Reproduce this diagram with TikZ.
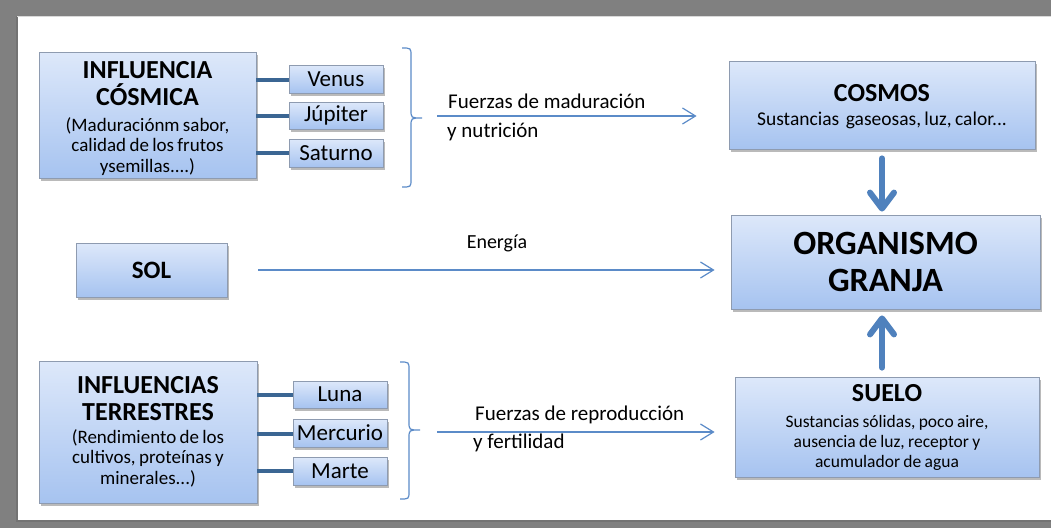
\documentclass[tikz,border=0pt]{standalone}
\usepackage{fontspec}
\setmainfont{Carlito}
\usetikzlibrary{arrows.meta,shadows}
\definecolor{bgray}{HTML}{808080}
\definecolor{boxtop}{HTML}{DDE8FA}
\definecolor{boxbot}{HTML}{A6C3F0}
\definecolor{boxline}{HTML}{8E9BB0}
\definecolor{linkc}{HTML}{3B6693}
\definecolor{arrc}{HTML}{5B8BC8}
\definecolor{bigarr}{HTML}{4F81BD}
\newcommand\hdfont{\fontsize{26}{27}\selectfont\bfseries}
\newcommand\sbfont{\fontsize{19}{20.5}\selectfont\mdseries}
\newcommand\sbsmall{\fontsize{17.5}{20}\selectfont\mdseries}
\begin{document}
\begin{tikzpicture}[x=1pt,y=-1pt,
  box/.style={draw=boxline, line width=0.8pt, top color=boxtop, bottom color=boxbot,
    drop shadow={shadow xshift=1.5pt, shadow yshift=-2.5pt, opacity=0.45, fill=black!60},
    inner sep=0pt, align=center},
  small/.style={box, minimum width=94pt, minimum height=28pt, font=\fontsize{23}{24}\selectfont},
  link/.style={draw=linkc, line width=4pt},
  thinarr/.style={draw=arrc, line width=1.2pt, -{Straight Barb[length=13pt,width=16pt]}},
  bigarrow/.style={draw=bigarr, line width=6pt, line cap=round,
    -{Straight Barb[length=16pt,width=24pt,line cap=round,line join=round]}},
  lbl/.style={inner sep=0pt, font=\fontsize{21}{22}\selectfont, anchor=base west},
  bracec/.style={draw=arrc, line width=1.2pt}]
\useasboundingbox (0,0) rectangle (1051,528);
\fill[bgray] (0,0) rectangle (1051,528);
\fill[white] (17,16) rectangle (1051,521);
\draw[black!55, line width=1.5pt] (17,16) -- (17,521) -- (1051,521);
\draw[black!15, line width=1pt] (17,16) -- (1051,16);

% boxes
\node[box, minimum width=217pt, minimum height=126pt, text width=210pt] (infc) at (147.5,115)
  {\hdfont\rule{0pt}{24pt}INFLUENCIA\\ CÓSMICA\par\vspace{5pt}\sbfont (Maduraciónm sabor,\\ calidad de los frutos\\ ysemillas....)\par};
\node[small] (venus) at (336,79) {Venus};
\node[small, minimum height=27pt] (jupiter) at (336,115.5) {Júpiter};
\node[small] (saturno) at (336,153) {Saturno};

\node[box, minimum width=151pt, minimum height=54pt, font=\fontsize{25}{27}\selectfont\bfseries] (sol) at (151.5,270) {SOL};

\node[box, minimum width=218pt, minimum height=142pt, text width=210pt] (inft) at (148,432)
  {\hdfont INFLUENCIAS\\ TERRESTRES\par\vspace{2pt}\sbfont (Rendimiento de los\\ cultivos, proteínas y\\ minerales...)\par};
\node[small, minimum height=27pt] (luna) at (340,394.5) {Luna};
\node[small] (mercurio) at (340,433) {Mercurio};
\node[small] (marte) at (340,471) {Marte};

\node[box, minimum width=306pt, minimum height=88pt, text width=300pt] (cosmos) at (882,105)
  {\hdfont\rule{0pt}{20pt}COSMOS\par\vspace{3pt}\fontsize{19.5}{20.5}\selectfont\mdseries Sustancias~ gaseosas, luz, calor...\par};
\node[box, minimum width=309pt, minimum height=94pt, text width=300pt,
  font=\fontsize{34}{37}\selectfont\bfseries] (org) at (885.5,262) {ORGANISMO\\ GRANJA};
\node[box, minimum width=304pt, minimum height=100pt, text width=300pt] (suelo) at (887,427)
  {\hdfont SUELO\par\vspace{6pt}\sbsmall Sustancias sólidas, poco aire,\\ ausencia de luz, receptor y\\ acumulador de agua\par};

% planet links
\draw[link] (infc.east |- 0,80) -- (venus.west |- 0,80);
\draw[link] (infc.east |- jupiter.west) -- (jupiter.west);
\draw[link] (infc.east |- saturno.west) -- (saturno.west);
\draw[link] (inft.east |- 0,395) -- (luna.west |- 0,395);
\draw[link] (inft.east |- 0,434) -- (mercurio.west |- 0,434);
\draw[link] (inft.east |- marte.west) -- (marte.west);

% braces
\draw[bracec] (402,48) .. controls (411,48) .. (411,56) -- (411,110) .. controls (411,118) .. (422,118)
  .. controls (411,118) .. (411,126) -- (411,179) .. controls (411,187) .. (402,187);
\draw[bracec] (400,362) .. controls (409,362) .. (409,370) -- (409,422) .. controls (409,430) .. (420,430)
  .. controls (409,430) .. (409,438) -- (409,491) .. controls (409,499) .. (400,499);

% thin arrows
\coordinate (f1s) at (437,116);
\coordinate (f2s) at (437,432);
\draw[thinarr, shorten >=32pt] (f1s) -- (cosmos.west |- f1s);
\draw[thinarr, shorten <=31pt, shorten >=16pt] (sol.east) -- (sol.east -| org.west);
\draw[thinarr, shorten >=20pt] (f2s) -- (suelo.west |- f2s);

% labels
\node[lbl] (t1) at (448,108) {Fuerzas de maduración};
\node[lbl] (t2) at (447,137) {y nutrición};
\node[lbl, anchor=base, font=\fontsize{20}{22}\selectfont] (t3) at (497,248) {Energía};
\node[lbl] (t4) at (475,420) {Fuerzas de reproducción};
\node[lbl] (t5) at (473,448) {y fertilidad};

% big arrows
\draw[bigarrow, shorten <=9pt, shorten >=3pt] (cosmos.south) -- (cosmos.south |- org.north);
\draw[bigarrow, shorten <=9pt, shorten >=6pt] (suelo.north -| cosmos.south) -- (cosmos.south |- org.south);
\end{tikzpicture}
\end{document}
